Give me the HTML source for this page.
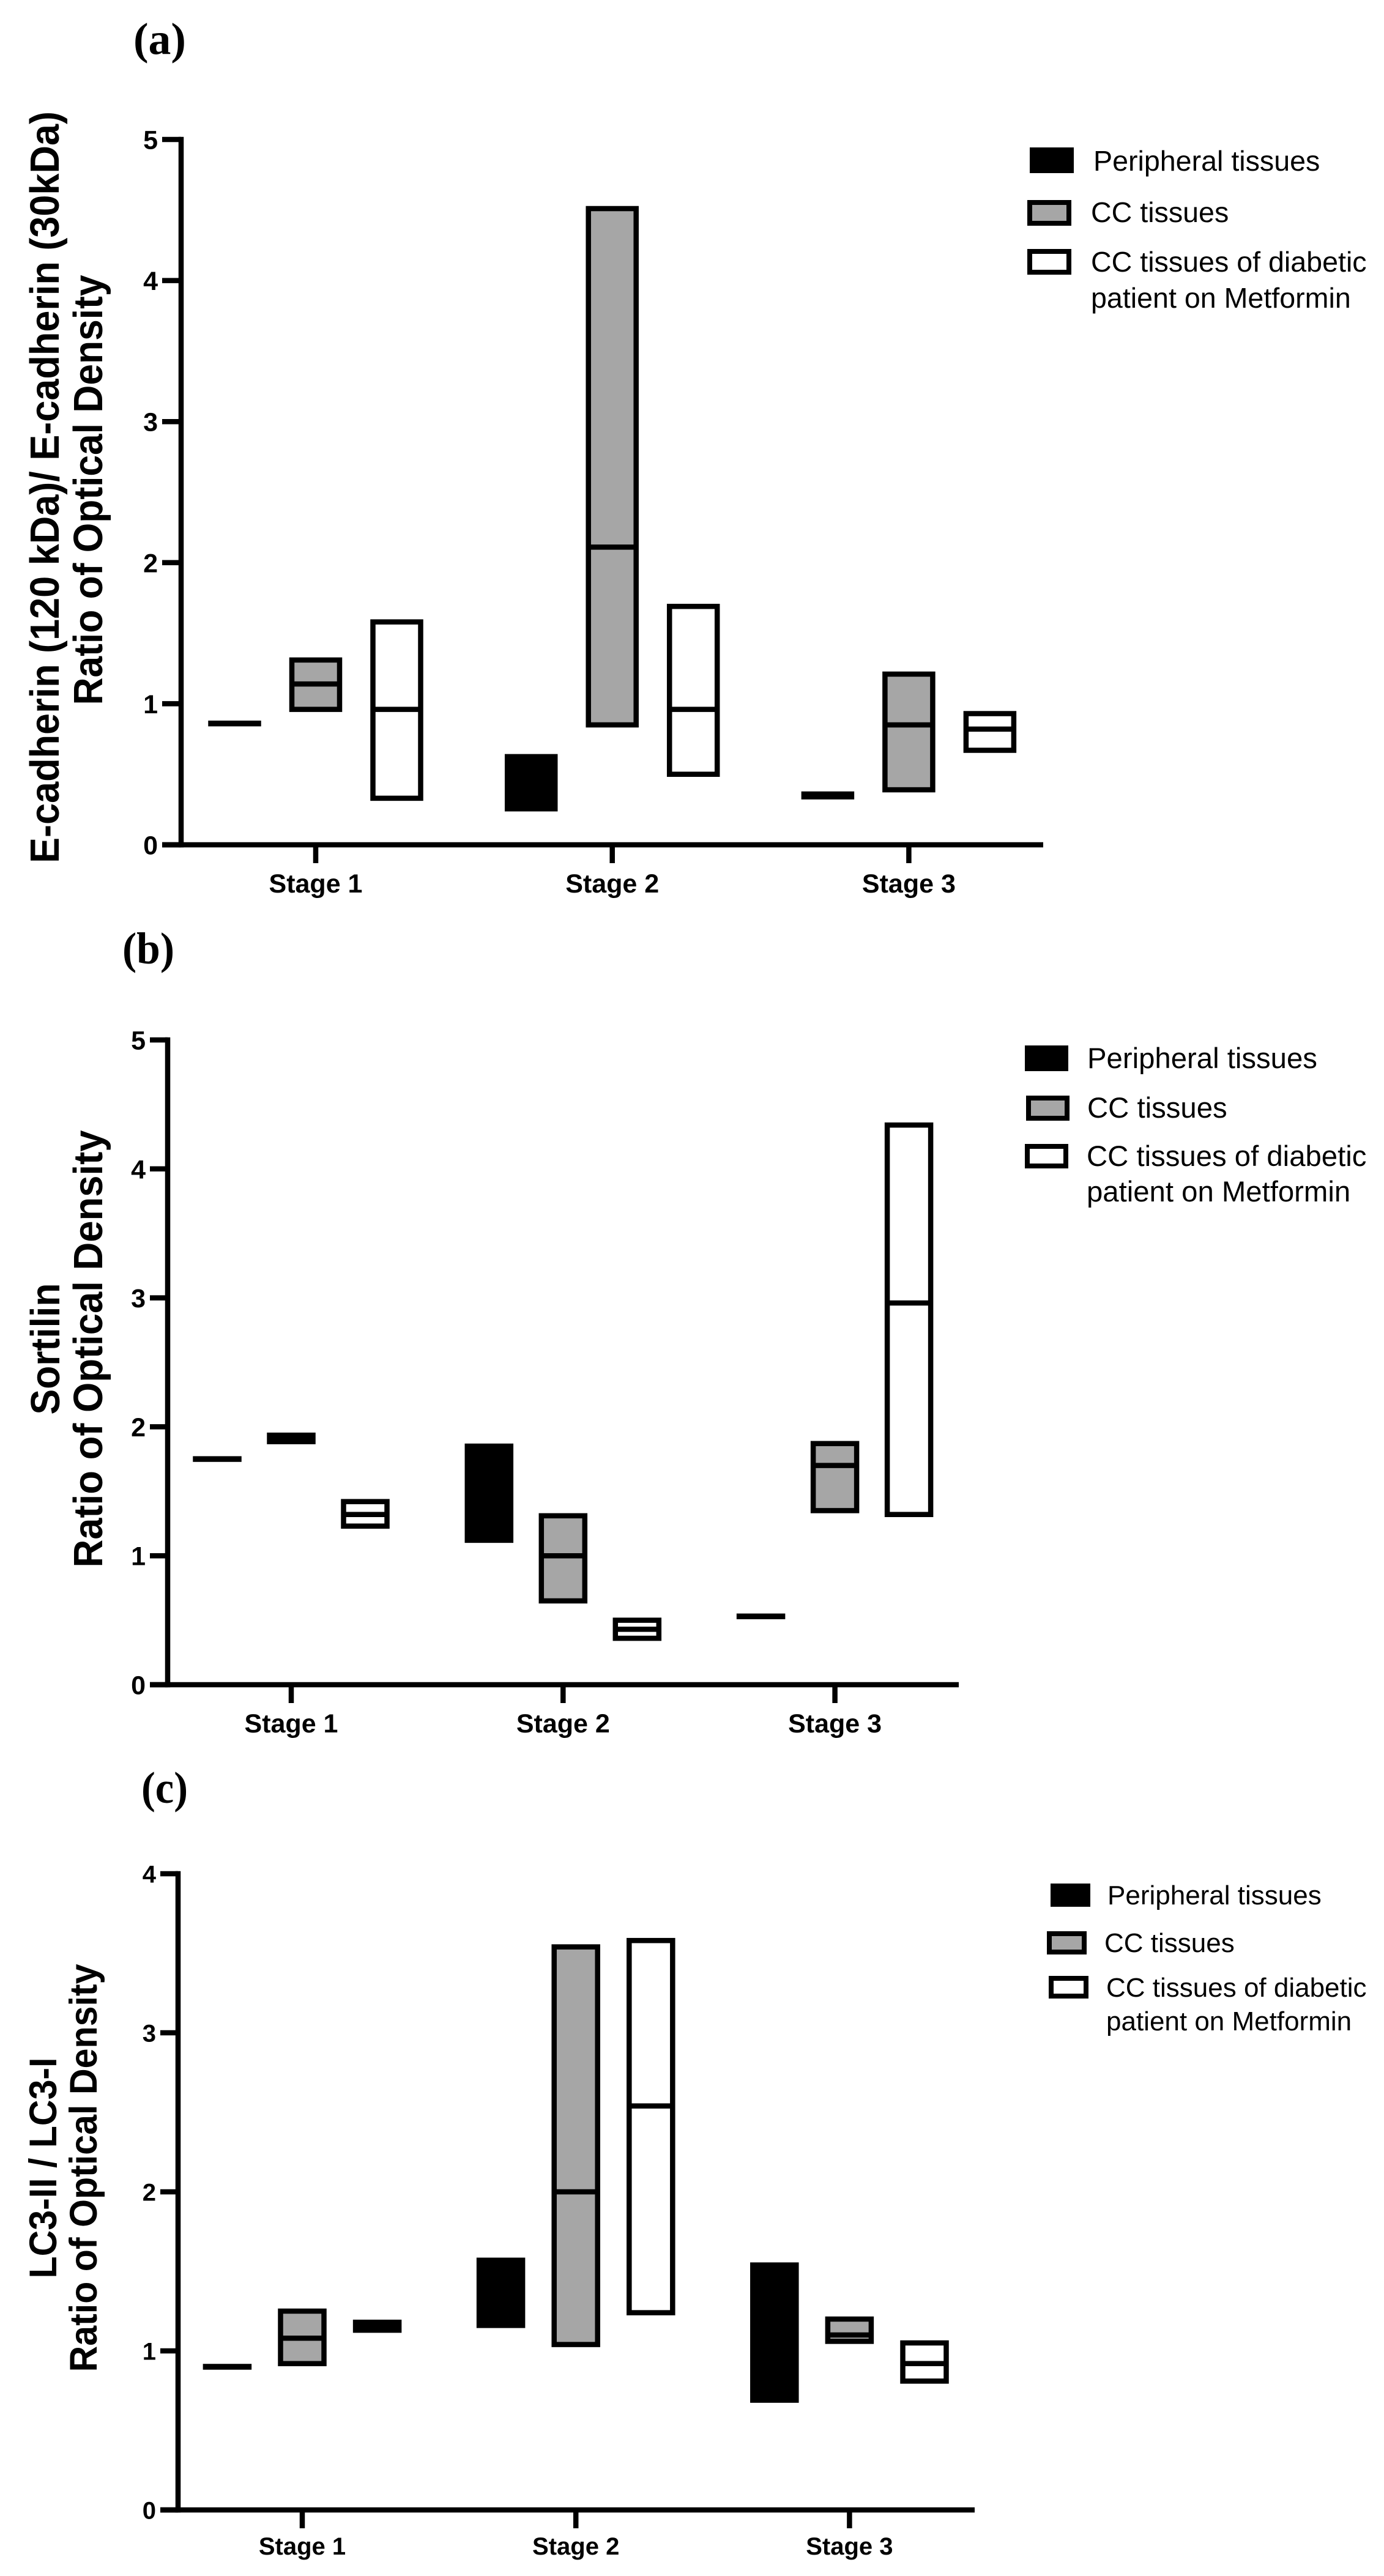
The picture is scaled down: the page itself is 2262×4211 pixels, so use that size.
<!DOCTYPE html>
<html lang="en">
<head>
<meta charset="utf-8">
<title>Optical density ratios by stage</title>
<style>
html,body{margin:0;padding:0;background:#fff;}
svg{display:block;}
text{font-family:"Liberation Sans",Arial,sans-serif;fill:#000;}
.panel{font-family:"Liberation Serif",serif;font-weight:bold;font-size:73px;}
.tick{font-weight:bold;}
.title{font-weight:bold;}
</style>
</head>
<body>
<svg id="figure" xmlns="http://www.w3.org/2000/svg" width="2262" height="4211" viewBox="0 0 2262 4211">
  <rect width="2262" height="4211" fill="#fff"/>
</svg>
<script>
// Shared categories and tick labels
const stages = ["Stage 1", "Stage 2", "Stage 3"];
const seriesNames = ["Peripheral tissues", "CC tissues", "CC tissues of diabetic patient on Metformin"];
const ticksFive = [0, 1, 2, 3, 4, 5];
const ticksFour = [0, 1, 2, 3, 4];

// Panel (a): [low, median, high] per stage
const aPeripheral = [[0.858, 0.86, 0.862], [0.255, 0.44, 0.625], [0.34, 0.35, 0.36]];
const aCC = [[0.96, 1.14, 1.31], [0.85, 2.11, 4.51], [0.39, 0.85, 1.21]];
const aMetformin = [[0.33, 0.96, 1.58], [0.5, 0.96, 1.69], [0.67, 0.82, 0.93]];

// Panel (b): [low, median, high] per stage
const bPeripheral = [[1.748, 1.75, 1.752], [1.12, 1.42, 1.85], [0.528, 0.53, 0.532]];
const bCC = [[1.885, 1.91, 1.935], [0.65, 1.0, 1.31], [1.35, 1.7, 1.87]];
const bMetformin = [[1.23, 1.32, 1.42], [0.36, 0.43, 0.5], [1.32, 2.96, 4.34]];

// Panel (c): [low, median, high] per stage
const cPeripheral = [[0.898, 0.9, 0.902], [1.16, 1.35, 1.57], [0.69, 1.1, 1.54]];
const cCC = [[0.92, 1.08, 1.25], [1.04, 2.0, 3.54], [1.06, 1.1, 1.2]];
const cMetformin = [[1.13, 1.16, 1.18], [1.24, 2.54, 3.58], [0.81, 0.92, 1.05]];

const NS = "http://www.w3.org/2000/svg";
const figure = document.getElementById("figure");

function make(tag, attrs, parent, content) {
  const el = document.createElementNS(NS, tag);
  for (const k in attrs) el.setAttribute(k, attrs[k]);
  if (content !== undefined) el.textContent = content;
  parent.appendChild(el);
  return el;
}

function drawChart(cfg) {
  const group = make("g", {}, figure);
  
  

  const maxTick = cfg.ticks[cfg.ticks.length - 1];
  const y = v => cfg.baseY - (v / maxTick) * (cfg.baseY - cfg.topY);
  const x = (stage, series) => cfg.firstStageX + stage * cfg.stageGap + (series - 1) * cfg.barGap;
  const sw = 8.5;

  // panel label
  const panel = make("text", {x: cfg.panelX, y: cfg.panelY, class: "panel", textLength: cfg.panelW, lengthAdjust: "spacingAndGlyphs"}, group, "(" + cfg.id + ")");
  
  

  // y axis title lines
  cfg.titleLines.forEach((t) => {
    const ttl = make("text", {
      transform: "translate(" + t.x + "," + t.cy + ") rotate(-90)",
      "text-anchor": "middle", class: "title", textLength: t.len, lengthAdjust: "spacingAndGlyphs",
      style: "font-size:" + cfg.titleFont + "px"
    }, group, t.text);
    
    
  });

  // series boxes
  const seriesSets = [cfg.peripheral, cfg.cc, cfg.metformin];
  const fills = ["#000", "#a6a6a6", "#fff"];
  seriesSets.forEach((set, s) => {
    set.forEach((vals, i) => {
      const top = y(vals[2]), bottom = y(vals[0]);
      const cx = x(i, s);
      const box = make("rect", {
        x: cx - cfg.barW / 2, y: top, width: cfg.barW, height: bottom - top,
        fill: fills[s], stroke: "#000", "stroke-width": sw
      }, group);
      
      
      const median = make("line", {
        x1: cx - cfg.barW / 2, x2: cx + cfg.barW / 2, y1: y(vals[1]), y2: y(vals[1]),
        stroke: "#000", "stroke-width": sw
      }, group);
      
      
    });
  });

  // y axis
  const yAxis = make("line", {x1: cfg.axisX, x2: cfg.axisX, y1: y(maxTick) - sw / 2, y2: cfg.baseY + sw / 2, stroke: "#000", "stroke-width": sw}, group);
  
  
  cfg.ticks.forEach(v => {
    const tick = make("line", {x1: cfg.axisX - cfg.tickLen, x2: cfg.axisX, y1: y(v), y2: y(v), stroke: "#000", "stroke-width": sw}, group);
    
    
    const label = make("text", {x: cfg.axisX - cfg.tickLen - 7, y: y(v) + cfg.tickFont * 0.36, "text-anchor": "end", class: "tick", style: "font-size:" + cfg.tickFont + "px"}, group, String(v));
    
    
  });

  // x axis
  const xAxis = make("line", {x1: cfg.axisX - cfg.tickLen, x2: cfg.axisEndX, y1: cfg.baseY, y2: cfg.baseY, stroke: "#000", "stroke-width": sw}, group);
  
  
  stages.forEach((name, i) => {
    const tx = cfg.firstStageX + i * cfg.stageGap;
    const tick = make("line", {x1: tx, x2: tx, y1: cfg.baseY, y2: cfg.baseY + 30, stroke: "#000", "stroke-width": sw}, group);
    
    
    const label = make("text", {x: tx, y: cfg.baseY + cfg.stageLabelDy, "text-anchor": "middle", class: "tick", style: "font-size:" + cfg.tickFont + "px"}, group, name);
    
    
  });

  // legend
  const legend = make("g", {}, group);
  
  
  cfg.legend.forEach((row, s) => {
    const swatch = make("rect", {
      x: row.swatchX + 4, y: row.swatchY + 4, width: cfg.swatchW - 8, height: row.swatchH - 8,
      fill: fills[s], stroke: "#000", "stroke-width": 8
    }, legend);
    
    
    row.lines.forEach(line => {
      const txt = make("text", {x: row.textX, y: line.y, style: "font-size:" + cfg.legendFont + "px"}, legend, line.text);
      
      
    });
  });
}

drawChart({
  id: "a", ticks: ticksFive, peripheral: aPeripheral, cc: aCC, metformin: aMetformin,
  topY: 228, baseY: 1381, axisX: 296, axisEndX: 1705,
  firstStageX: 516, stageGap: 484.7, barGap: 132.5, barW: 78,
  tickLen: 31, tickFont: 43, stageLabelDy: 78,
  panelX: 218, panelY: 88, panelW: 86,
  titleFont: 67,
  titleLines: [
    {x: 96, cy: 796.5, len: 1229, text: "E-cadherin (120 kDa)/ E-cadherin (30kDa)"},
    {x: 167, cy: 801, len: 703, text: "Ratio of Optical Density"}
  ],
  swatchW: 72, legendFont: 46.6,
  legend: [
    {swatchX: 1683, swatchY: 241, swatchH: 42, textX: 1787, lines: [{y: 279, text: seriesNames[0]}]},
    {swatchX: 1679, swatchY: 327, swatchH: 42, textX: 1783, lines: [{y: 363, text: seriesNames[1]}]},
    {swatchX: 1679, swatchY: 407, swatchH: 42, textX: 1783, lines: [{y: 444, text: "CC tissues of diabetic"}, {y: 503, text: "patient on Metformin"}]}
  ]
});

drawChart({
  id: "b", ticks: ticksFive, peripheral: bPeripheral, cc: bCC, metformin: bMetformin,
  topY: 1700, baseY: 2754, axisX: 274, axisEndX: 1567,
  firstStageX: 476, stageGap: 444.3, barGap: 121, barW: 71,
  tickLen: 29, tickFont: 43, stageLabelDy: 78,
  panelX: 200, panelY: 1575, panelW: 85,
  titleFont: 67,
  titleLines: [
    {x: 97, cy: 2205, len: 215, text: "Sortilin"},
    {x: 167, cy: 2205, len: 715, text: "Ratio of Optical Density"}
  ],
  swatchW: 71, legendFont: 47.3,
  legend: [
    {swatchX: 1675, swatchY: 1709, swatchH: 42, textX: 1777, lines: [{y: 1746, text: seriesNames[0]}]},
    {swatchX: 1677, swatchY: 1791, swatchH: 41, textX: 1777, lines: [{y: 1827, text: seriesNames[1]}]},
    {swatchX: 1675, swatchY: 1870, swatchH: 40, textX: 1776, lines: [{y: 1906, text: "CC tissues of diabetic"}, {y: 1964, text: "patient on Metformin"}]}
  ]
});

drawChart({
  id: "c", ticks: ticksFour, peripheral: cPeripheral, cc: cCC, metformin: cMetformin,
  topY: 3063, baseY: 4103, axisX: 291, axisEndX: 1593,
  firstStageX: 494, stageGap: 447.2, barGap: 122.6, barW: 71,
  tickLen: 29, tickFont: 40, stageLabelDy: 73,
  panelX: 231, panelY: 2947, panelW: 76,
  titleFont: 63,
  titleLines: [
    {x: 92, cy: 3544, len: 361, text: "LC3-II / LC3-I"},
    {x: 158, cy: 3544, len: 667, text: "Ratio of Optical Density"}
  ],
  swatchW: 65, legendFont: 44,
  legend: [
    {swatchX: 1717, swatchY: 3079, swatchH: 38, textX: 1810, lines: [{y: 3113, text: seriesNames[0]}]},
    {swatchX: 1711, swatchY: 3157, swatchH: 38, textX: 1805, lines: [{y: 3191, text: seriesNames[1]}]},
    {swatchX: 1714, swatchY: 3230, swatchH: 37, textX: 1808, lines: [{y: 3264, text: "CC tissues of diabetic"}, {y: 3319, text: "patient on Metformin"}]}
  ]
});
</script>
</body>
</html>
